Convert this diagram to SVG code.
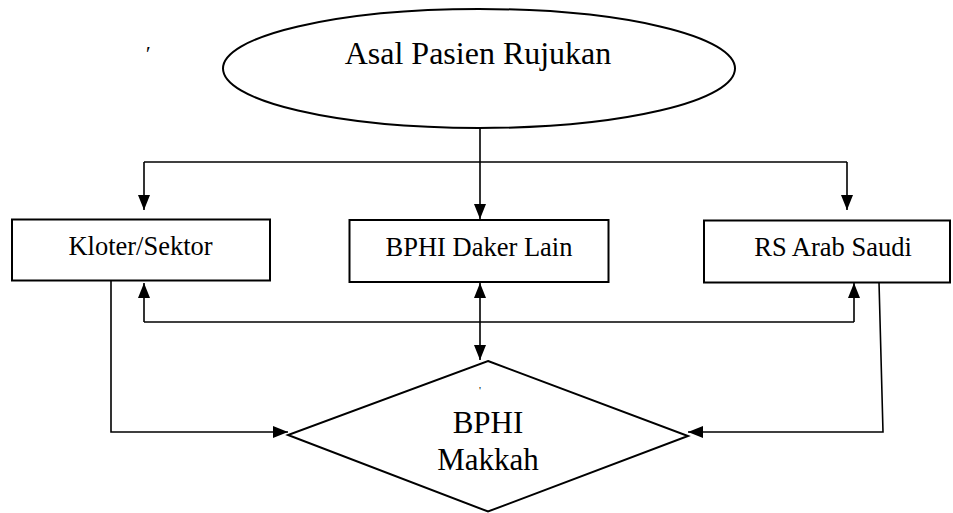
<svg xmlns="http://www.w3.org/2000/svg" width="953" height="513" viewBox="0 0 953 513">
  <style>
    .shape { fill: #ffffff; stroke: #000000; stroke-width: 2; }
    .conn { fill: none; stroke: #000000; stroke-width: 1.6; }
    .lbl { font-family: "Liberation Serif", "Times New Roman", serif; fill: #000000; text-anchor: middle; }
  </style>
  <defs>
    <marker id="arr" viewBox="0 0 15 12" refX="15" refY="6" markerWidth="15" markerHeight="12" markerUnits="userSpaceOnUse" orient="auto-start-reverse">
      <path d="M0,0 L15,6 L0,12 Z" fill="#000000"/>
    </marker>
  </defs>
  <rect width="953" height="513" fill="#ffffff"/>

  <g id="connectors">
    <path class="conn" d="M480,128 V219" marker-end="url(#arr)"/>
    <path class="conn" d="M144,162 H847"/>
    <path class="conn" d="M144,162 V210" marker-end="url(#arr)"/>
    <path class="conn" d="M847,162 V210" marker-end="url(#arr)"/>
    <path class="conn" d="M144,322 H854"/>
    <path class="conn" d="M144,322 V283" marker-end="url(#arr)"/>
    <path class="conn" d="M854,322 V283" marker-end="url(#arr)"/>
    <path class="conn" d="M480,283 V360" marker-start="url(#arr)" marker-end="url(#arr)"/>
    <path class="conn" d="M111,281 V432 H288" marker-end="url(#arr)"/>
    <path class="conn" d="M879,282 L883,432 H688" marker-end="url(#arr)"/>
  </g>

  <g id="node-asal">
    <ellipse class="shape" cx="479" cy="68.5" rx="256" ry="59.5"/>
    <text class="lbl" x="478" y="64" font-size="32">Asal Pasien Rujukan</text>
  </g>

  <g id="node-kloter">
    <rect class="shape" x="12" y="219.5" width="258" height="61"/>
    <text class="lbl" x="140.5" y="255" font-size="26.5">Kloter/Sektor</text>
  </g>

  <g id="node-daker">
    <rect class="shape" x="349.5" y="220" width="259" height="62"/>
    <text class="lbl" x="479" y="256" font-size="26.5">BPHI Daker Lain</text>
  </g>

  <g id="node-rs">
    <rect class="shape" x="704" y="220.5" width="246" height="62"/>
    <text class="lbl" x="833" y="256" font-size="26.5">RS Arab Saudi</text>
  </g>

  <g id="node-makkah">
    <polygon class="shape" points="488,361 688,436 488,511.5 288,435"/>
    <text class="lbl" x="480" y="394" font-size="11">'</text>
    <text class="lbl" x="488" y="433" font-size="31">BPHI</text>
    <text class="lbl" x="488" y="470" font-size="31">Makkah</text>
  </g>

  <text class="lbl" x="147" y="61" font-size="22" font-style="italic">′</text>
</svg>
